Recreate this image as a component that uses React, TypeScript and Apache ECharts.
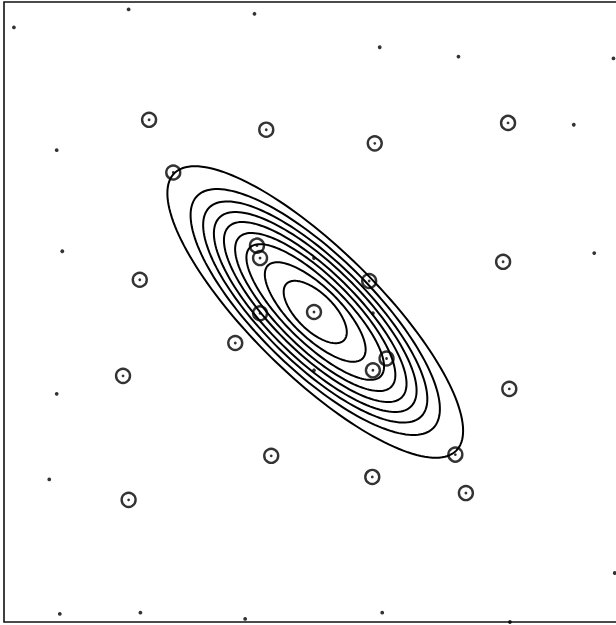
import React, { useEffect, useRef } from "react";
import * as echarts from "echarts";

// Plain lattice points (x, y) in the 0–10 plot units
const plainDots: [number, number][] = [
  [0.16, 9.59], [2.01, 9.88], [4.04, 9.81], [6.06, 9.27], [7.33, 9.12], [9.83, 9.09],
  [9.19, 8.02], [0.85, 7.61], [0.94, 5.98], [9.52, 5.95], [0.85, 3.68], [0.73, 2.30],
  [9.85, 0.79], [0.90, 0.13], [2.20, 0.15], [3.89, 0.05], [6.10, 0.15], [8.16, 0.0],
  [5.0, 5.87], [5.95, 4.98], [5.0, 4.06],
];

// Circled (selected) points
const circledPoints: [number, number][] = [
  [2.34, 8.10], [4.23, 7.94], [5.98, 7.72], [8.13, 8.05], [2.73, 7.25], [2.19, 5.52],
  [8.05, 5.81], [1.92, 3.97], [3.73, 4.50], [8.15, 3.76], [4.31, 2.68], [5.94, 2.34],
  [7.28, 2.70], [7.45, 2.08], [2.01, 1.97], [4.08, 6.07], [4.13, 5.87], [5.89, 5.50],
  [4.13, 4.98], [5.0, 5.0], [6.17, 4.25], [5.95, 4.06],
];

// Contour ellipses: common centre and tilt, semi-major / semi-minor per level
const contourCenter: [number, number] = [5.02, 5.0];
const contourAngleDeg = -44.5;
const contourMajor = [3.19, 2.67, 2.40, 2.17, 1.96, 1.72, 1.48, 1.07, 0.65];
const contourMinor = [1.02, 0.92, 0.83, 0.75, 0.66, 0.58, 0.49, 0.40, 0.30];

export default function App() {
  const ref = useRef<HTMLDivElement>(null);
  useEffect(() => {
    const chart = echarts.init(ref.current!, null, { renderer: "svg" });
    const th = (contourAngleDeg * Math.PI) / 180;
    const ink = "#000";
    chart.setOption({
      animation: false,
      backgroundColor: "#fff",
      grid: {
        left: 4, top: 2, width: 620, height: 620,
        show: true, borderColor: "#111", borderWidth: 1.6, backgroundColor: "transparent",
      },
      xAxis: { type: "value", min: 0, max: 10, show: false },
      yAxis: { type: "value", min: 0, max: 10, show: false },
      series: [
        {
          type: "custom",
          coordinateSystem: "cartesian2d",
          silent: true,
          clip: false,
          data: contourMajor.map((a, i) => [contourCenter[0], contourCenter[1], a, contourMinor[i]]),
          renderItem: (_params: any, api: any) => {
            const cx = api.value(0), cy = api.value(1), a = api.value(2), b = api.value(3);
            const pts: number[][] = [];
            const n = 160;
            for (let k = 0; k < n; k++) {
              const t = (2 * Math.PI * k) / n;
              const ex = a * Math.cos(t), ey = b * Math.sin(t);
              const x = cx + ex * Math.cos(th) - ey * Math.sin(th);
              const y = cy + ex * Math.sin(th) + ey * Math.cos(th);
              pts.push(api.coord([x, y]));
            }
            return {
              type: "polygon",
              shape: { points: pts },
              style: { fill: "none", stroke: ink, lineWidth: 2 },
            };
          },
        },
        {
          type: "scatter",
          data: circledPoints,
          symbol: "circle",
          symbolSize: 14,
          silent: true,
          itemStyle: { color: "rgba(0,0,0,0)", borderColor: ink, borderWidth: 2.4 },
        },
        {
          type: "scatter",
          data: circledPoints,
          symbolSize: 2.8,
          silent: true,
          itemStyle: { color: ink },
        },
        {
          type: "scatter",
          data: plainDots,
          symbolSize: 3.8,
          silent: true,
          itemStyle: { color: ink },
        },
      ],
    });
    return () => chart.dispose();
  }, []);
  return (
    <div style={{ position: "fixed", left: 0, top: 0, width: 616, height: 625, overflow: "hidden", background: "#fff" }}>
      <div ref={ref} style={{ width: 640, height: 625 }} />
    </div>
  );
}
